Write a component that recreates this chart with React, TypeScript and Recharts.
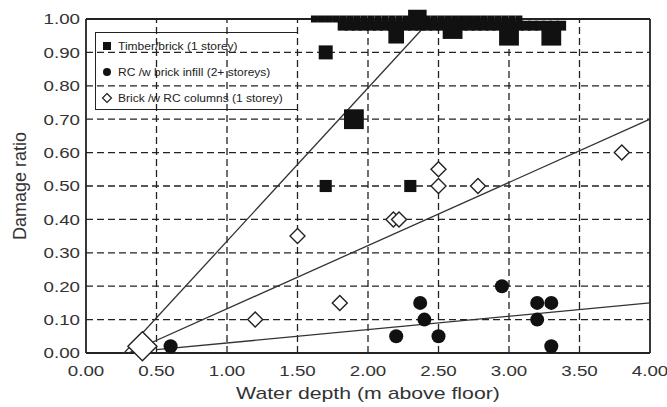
import React from "react";
import { ReferenceLine, Scatter, ScatterChart, XAxis, YAxis } from "recharts";

const xTicks = [0, 0.5, 1, 1.5, 2, 2.5, 3, 3.5, 4];
const yTicks = [0, 0.1, 0.2, 0.3, 0.4, 0.5, 0.6, 0.7, 0.8, 0.9, 1.0];

// Timber/brick (1 storey) — w is the marker weight (number of buildings)
const timberPoints = [
  { x: 1.7, y: 0.9, w: 4 },
  { x: 1.9, y: 0.7, w: 8 },
  { x: 1.7, y: 0.5, w: 3 },
  { x: 2.3, y: 0.5, w: 3 },
  { x: 2.2, y: 0.95, w: 5 },
  { x: 2.35, y: 1.0, w: 7 },
  { x: 2.6, y: 0.97, w: 8 },
  { x: 3.0, y: 0.95, w: 8 },
  { x: 3.3, y: 0.95, w: 8 },
];
// dense run of total-loss cases along the top
const timberRowAt100 = [
  1.62, 1.67, 1.72, 1.77, 1.82, 1.87, 1.92, 1.97, 2.02, 2.07, 2.12, 2.17, 2.22, 2.27, 2.32,
  2.37, 2.42, 2.47, 2.52, 2.57, 2.62, 2.67, 2.72, 2.77, 2.82, 2.87, 2.92, 2.97, 3.02, 3.07,
];
const timberRowAt098 = [
  1.82, 1.87, 1.92, 1.97, 2.02, 2.07, 2.12, 2.17, 2.22, 2.27, 2.32, 2.37, 2.42, 2.47, 2.52, 2.57,
  2.62, 2.67, 2.72, 2.77, 2.82, 2.87, 2.92, 2.97, 3.02, 3.07, 3.12, 3.17, 3.22, 3.27, 3.32, 3.37,
];

// RC /w brick infill (2+ storeys)
const rcPoints = [
  { x: 0.6, y: 0.02, w: 4 },
  { x: 2.2, y: 0.05, w: 4 },
  { x: 2.37, y: 0.15, w: 4 },
  { x: 2.4, y: 0.1, w: 4 },
  { x: 2.5, y: 0.05, w: 4 },
  { x: 2.95, y: 0.2, w: 4 },
  { x: 3.2, y: 0.15, w: 4 },
  { x: 3.2, y: 0.1, w: 4 },
  { x: 3.3, y: 0.15, w: 4 },
  { x: 3.3, y: 0.02, w: 4 },
];

// Brick /w RC columns (1 storey)
const brickPoints = [
  { x: 0.4, y: 0.02, w: 16 },
  { x: 1.2, y: 0.1, w: 4 },
  { x: 1.5, y: 0.35, w: 4 },
  { x: 1.8, y: 0.15, w: 4 },
  { x: 2.18, y: 0.4, w: 4 },
  { x: 2.22, y: 0.4, w: 4 },
  { x: 2.5, y: 0.55, w: 4 },
  { x: 2.5, y: 0.5, w: 4 },
  { x: 2.78, y: 0.5, w: 4 },
  { x: 3.8, y: 0.6, w: 4 },
];

// fitted lines (end points)
const timberFit = [{ x: 0.27, y: 0 }, { x: 2.45, y: 1.0 }];
const brickFit = [{ x: 0.3, y: 0 }, { x: 4.0, y: 0.7 }];
const rcFit = [{ x: 0.5, y: 0.01 }, { x: 4.0, y: 0.15 }];

const xTickLabels = ["0.00", "0.50", "1.00", "1.50", "2.00", "2.50", "3.00", "3.50", "4.00"];

const timberData = [
  ...timberRowAt100.map((x) => ({ x, y: 1.0, w: 1 })),
  ...timberRowAt098.map((x) => ({ x, y: 0.98, w: 2 })),
  ...timberPoints,
];

const FONT = "'Liberation Sans', Arial, sans-serif";
const INK = "#222";
const side = (w: number) => 7 * Math.sqrt(w);

const Square = (p: any) => {
  const s = side(p.payload.w);
  return <rect x={p.cx - s / 2} y={p.cy - s / 2} width={s} height={s} fill="#111" />;
};
const Dot = (p: any) => <circle cx={p.cx} cy={p.cy} r={side(p.payload.w) / 2} fill="#111" />;
const Diamond = (p: any) => {
  const h = side(p.payload.w) / 2 + 0.5;
  const { cx, cy } = p;
  return (
    <path
      d={`M${cx},${cy - h}L${cx + h},${cy}L${cx},${cy + h}L${cx - h},${cy}Z`}
      fill="#fff"
      stroke={INK}
      strokeWidth={1.4}
    />
  );
};
const NoDot = () => <g />;

const YTick = ({ x, y, payload }: any) => (
  <text
    transform={`translate(${x},${y}) scale(1.25,1)`}
    textAnchor="end"
    dy="0.36em"
    fontSize={15}
    fontFamily={FONT}
    fill="#333"
  >
    {payload.value.toFixed(2)}
  </text>
);

const XTick = ({ x, y, payload, index }: any) => (
  <text
    transform={`translate(${x},${y}) scale(1.25,1)`}
    textAnchor="middle"
    dy="0.71em"
    fontSize={15}
    fontFamily={FONT}
    fill="#333"
  >
    {xTickLabels[index] ?? payload.value}
  </text>
);

const legendItems = [
  { label: "Timber/brick (1 storey)", kind: "square" },
  { label: "RC /w brick infill (2+ storeys)", kind: "dot" },
  { label: "Brick /w RC columns (1 storey)", kind: "diamond" },
];

function LegendBox() {
  return (
    <div
      style={{
        position: "absolute",
        left: 95,
        top: 32,
        width: 203,
        height: 78,
        border: `1.5px solid ${INK}`,
        borderRight: "none",
        boxSizing: "border-box",
        paddingTop: 0,
      }}
    >
      {legendItems.map((it) => (
        <div key={it.label} style={{ height: 26, display: "flex", alignItems: "center", paddingLeft: 4 }}>
          <svg width={14} height={12}>
            {it.kind === "square" && <rect x={3} y={2} width={8} height={8} fill="#111" />}
            {it.kind === "dot" && <circle cx={7} cy={6} r={4} fill="#111" />}
            {it.kind === "diamond" && (
              <path d="M7,1.5L11.5,6L7,10.5L2.5,6Z" fill="#fff" stroke={INK} strokeWidth={1.2} />
            )}
          </svg>
          <span
            style={{
              marginLeft: 4,
              fontFamily: FONT,
              fontSize: 10,
              color: "#222",
              display: "inline-block",
              transform: "scaleX(1.2)",
              transformOrigin: "left center",
              whiteSpace: "nowrap",
            }}
          >
            {it.label}
          </span>
        </div>
      ))}
    </div>
  );
}

export default function App() {
  return (
    <div style={{ position: "absolute", left: 0, top: 0, width: 667, height: 407, background: "#fff" }}>
      <ScatterChart width={667} height={407} margin={{ top: 19, right: 17, bottom: 0, left: 0 }}>
        <XAxis
          type="number"
          dataKey="x"
          domain={[0, 4]}
          ticks={xTicks}
          height={54}
          tickSize={0}
          tickMargin={12}
          tick={<XTick />}
          axisLine={{ stroke: INK, strokeWidth: 1.8 }}
          interval={0}
        />
        <YAxis
          type="number"
          dataKey="y"
          domain={[0, 1]}
          ticks={yTicks}
          width={86}
          tickSize={0}
          tickMargin={6}
          tick={<YTick />}
          axisLine={{ stroke: INK, strokeWidth: 1.8 }}
          interval={0}
        />
        {xTicks.slice(1, -1).map((t) => (
          <ReferenceLine key={`gx${t}`} x={t} stroke={INK} strokeWidth={1.3} strokeDasharray="7 4" />
        ))}
        {yTicks.slice(1, -1).map((t) => (
          <ReferenceLine key={`gy${t}`} y={t} stroke={INK} strokeWidth={1.3} strokeDasharray="7 4" />
        ))}
        <ReferenceLine y={1} stroke={INK} strokeWidth={1.8} />
        <ReferenceLine x={4} stroke={INK} strokeWidth={1.8} />
        <Scatter data={timberFit} line={{ stroke: "#333", strokeWidth: 1.3 }} shape={<NoDot />} isAnimationActive={false} />
        <Scatter data={brickFit} line={{ stroke: "#333", strokeWidth: 1.3 }} shape={<NoDot />} isAnimationActive={false} />
        <Scatter data={rcFit} line={{ stroke: "#333", strokeWidth: 1.3 }} shape={<NoDot />} isAnimationActive={false} />
        <Scatter name="Timber/brick (1 storey)" data={timberData} shape={Square} isAnimationActive={false} />
        <Scatter name="RC /w brick infill (2+ storeys)" data={rcPoints} shape={Dot} isAnimationActive={false} />
        <Scatter name="Brick /w RC columns (1 storey)" data={brickPoints} shape={Diamond} isAnimationActive={false} />
      </ScatterChart>
      <LegendBox />
      <div
        style={{
          position: "absolute",
          left: 368,
          top: 384,
          transform: "translateX(-50%) scaleX(1.25)",
          fontFamily: FONT,
          fontSize: 17,
          color: "#333",
          whiteSpace: "nowrap",
        }}
      >
        Water depth (m above floor)
      </div>
      <div
        style={{
          position: "absolute",
          left: 20,
          top: 186,
          transform: "translate(-50%,-50%) rotate(-90deg)",
          fontFamily: FONT,
          fontSize: 18,
          color: "#333",
          whiteSpace: "nowrap",
        }}
      >
        Damage ratio
      </div>
    </div>
  );
}
